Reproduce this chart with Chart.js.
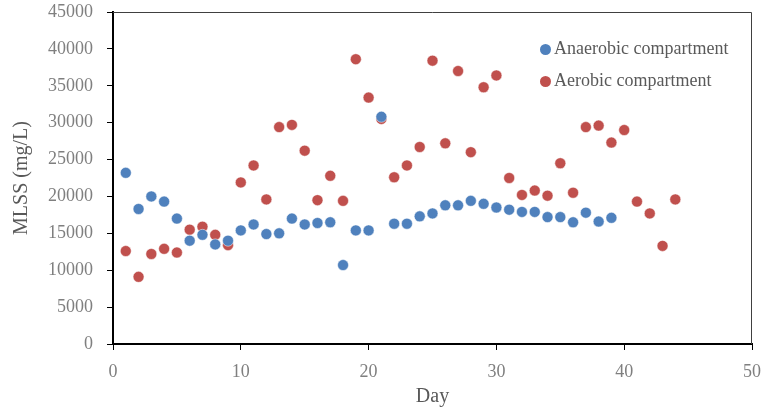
<!DOCTYPE html>
<html>
<head>
<meta charset="utf-8">
<script src="https://cdn.jsdelivr.net/npm/chart.js@4"></script>
<style>
  body { margin: 0; background: #fff; }
  #wrap { position: relative; width: 762px; height: 410px; }
  #legend { position: absolute; left: 540px; top: 35px; font-family: "Liberation Serif", serif; font-size: 18px; color: #595959; }
  #legend div { height: 32px; line-height: 26px; white-space: nowrap; }
  #legend span.dot { display: inline-block; width: 11px; height: 11px; border-radius: 50%; margin-right: 3px; vertical-align: -1px; }
</style>
</head>
<body>
<div id="wrap">
  <canvas id="grafico" width="762" height="410"></canvas>
  <div id="legend"></div>
</div>
<script>
const dias = [1,2,3,4,5,6,7,8,9,10,11,12,13,14,15,16,17,18,19,20,21,22,23,24,25,26,27,28,29,30,31,32,33,34,35,36,37,38,39,40,41,42,43,44];
const anaerobico = [23200,18300,20000,19300,17000,14000,14800,13500,14000,15400,16200,14900,15000,17000,16200,16400,16500,10700,15400,15400,30800,16300,16300,17300,17700,18800,18800,19400,19000,18500,18200,17900,17900,17200,17200,16500,17800,16600,17100];
const aerobico = [12600,9100,12200,12900,12400,15500,15900,14800,13400,21900,24200,19600,29400,29700,26200,19500,22800,19400,38600,33400,30500,22600,24200,26700,38400,27200,37000,26000,34800,36400,22500,20200,20800,20100,24500,20500,29400,29600,27300,29000,19300,17700,13300,19600];
const rotulos = ["Anaerobic compartment", "Aerobic compartment"];
const cores = ["#4f81bd", "#c0504d"];

const serie = (vals) => vals.map((v, i) => ({ x: dias[i], y: v }));

Chart.defaults.font.family = "'Liberation Serif', 'Times New Roman', serif";
const fonteTick = { family: "'Liberation Serif', 'Times New Roman', serif", size: 18 };
const cinza = "#7f7f7f";

const moldura = {
    id: "moldura",
    afterDraw(chart) {
        const a = chart.chartArea, ctx = chart.ctx;
        ctx.save();
        ctx.strokeStyle = "#404040";
        ctx.lineWidth = 1;
        ctx.beginPath();
        ctx.moveTo(a.left, a.top + 0.5);
        ctx.lineTo(a.right - 0.5, a.top + 0.5);
        ctx.lineTo(a.right - 0.5, a.bottom);
        ctx.stroke();
        ctx.restore();
    }
};

const grafico = new Chart(document.getElementById("grafico"), {
    type: "scatter",
    data: {
        datasets: [{
            label: rotulos[0],
            data: serie(anaerobico),
            backgroundColor: cores[0],
            borderColor: "#ffffff",
            borderWidth: 0.5,
            pointRadius: 5.5
        }, {
            label: rotulos[1],
            data: serie(aerobico),
            backgroundColor: cores[1],
            borderColor: "#ffffff",
            borderWidth: 0.5,
            pointRadius: 5.5
        }]
    },
    options: {
        responsive: false,
        animation: false,
        layout: { padding: { left: 0, right: 10, top: 12, bottom: 0 } },
        scales: {
            x: {
                type: "linear",
                min: 0,
                max: 50,
                ticks: { stepSize: 10, color: cinza, font: fonteTick, padding: 11, callback: (v) => String(v) },
                border: { color: "#000", width: 2 },
                grid: { drawOnChartArea: false, drawTicks: true, tickLength: 6, color: "#000" },
                title: { display: true, text: "Day", color: "#595959", font: { family: "'Liberation Serif', serif", size: 20 }, padding: { top: 4, bottom: 1 } },
                afterFit: (s) => { s.height = 66; s.paddingLeft = 0; s.paddingRight = 0; }
            },
            y: {
                min: 0,
                max: 45000,
                ticks: { stepSize: 5000, color: cinza, font: fonteTick, padding: 14, callback: (v) => String(v) },
                border: { color: "#000", width: 2 },
                grid: { drawOnChartArea: false, drawTicks: true, tickLength: 6, color: "#000" },
                title: { display: true, text: "MLSS (mg/L)", color: "#595959", font: { family: "'Liberation Serif', serif", size: 20 }, padding: { top: 10, bottom: 4 } },
                afterFit: (s) => { s.width = 113; s.paddingTop = 0; s.paddingBottom = 0; }
            }
        },
        plugins: {
            legend: { display: false },
            tooltip: { enabled: false }
        }
    },
    plugins: [moldura]
});

// legenda em HTML
const leg = document.getElementById("legend");
grafico.data.datasets.forEach((d) => {
    const linha = document.createElement("div");
    linha.innerHTML = '<span class="dot" style="background:' + d.backgroundColor + '"></span>' + d.label;
    leg.appendChild(linha);
});
</script>
</body>
</html>
